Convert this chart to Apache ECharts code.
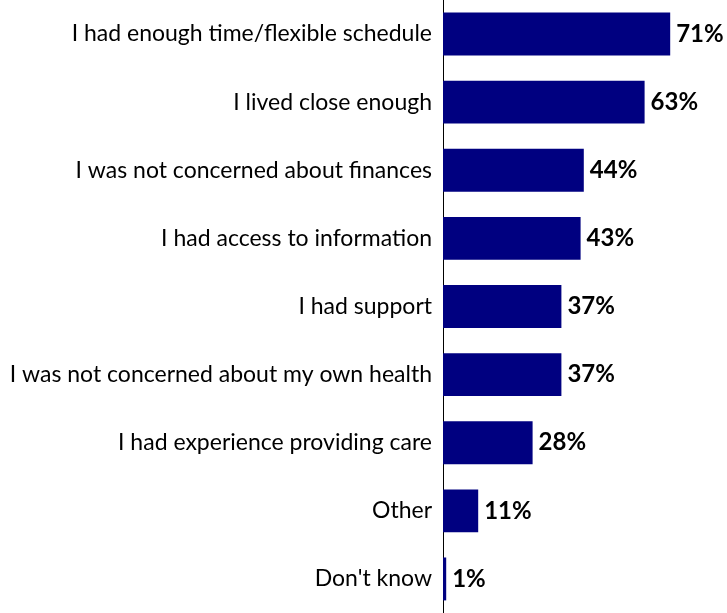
<!DOCTYPE html>
<html>
<head>
<meta charset="utf-8">
<script src="https://cdn.jsdelivr.net/npm/echarts@6/dist/echarts.min.js"></script>
<style>
  html, body { margin: 0; padding: 0; background: #fff; }
  #chart { width: 727px; height: 613px; }
</style>
</head>
<body>
<div id="chart"></div>
<script>
// Reasons listed top to bottom
const categories = [
  "I had enough time/flexible schedule",
  "I lived close enough",
  "I was not concerned about finances",
  "I had access to information",
  "I had support",
  "I was not concerned about my own health",
  "I had experience providing care",
  "Other",
  "Don't know"
];
// Share of respondents, percent
const values = [71, 63, 44, 43, 37, 37, 28, 11, 1];

const chart = echarts.init(document.getElementById('chart'), null, { renderer: 'canvas' });

chart.setOption({
  animation: false,
  grid: { left: 443, right: 28, top: -2, bottom: -4, containLabel: false },
  xAxis: {
    type: 'value',
    min: 0,
    max: 80,
    show: false
  },
  yAxis: {
    type: 'category',
    inverse: true,
    data: categories,
    axisLine: { show: true, lineStyle: { color: '#000', width: 1 } },
    axisTick: { show: false },
    axisLabel: {
      color: '#000',
      fontFamily: 'Lato, "Open Sans", sans-serif',
      fontSize: 23,
      margin: 11
    }
  },
  series: [{
    type: 'bar',
    data: values,
    barCategoryGap: '37%',
    itemStyle: { color: '#000080' },
    label: {
      show: true,
      position: 'right',
      distance: 6,
      formatter: '{c}%',
      color: '#000',
      fontWeight: 'bold',
      fontFamily: 'Lato, "Open Sans", sans-serif',
      fontSize: 24
    }
  }]
});
</script>
</body>
</html>
